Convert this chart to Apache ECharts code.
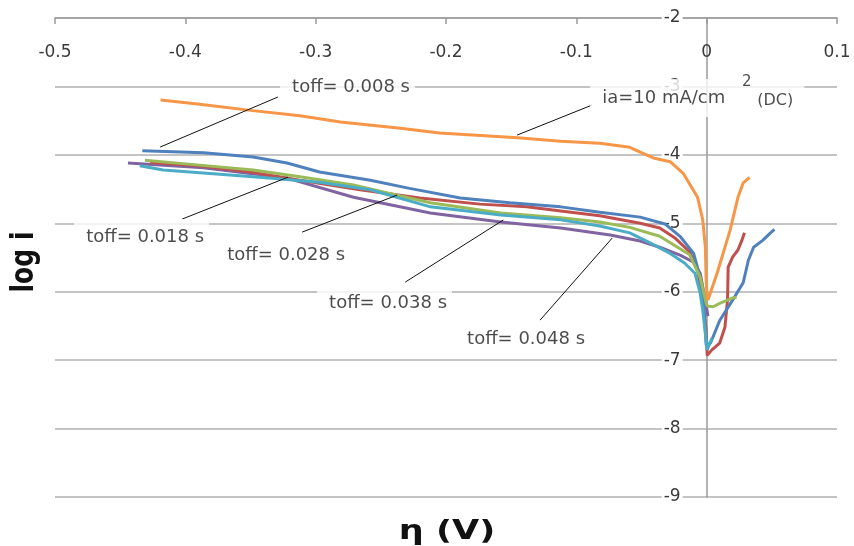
<!DOCTYPE html>
<html>
<head>
<meta charset="utf-8">
<script src="https://cdn.jsdelivr.net/npm/echarts@6/dist/echarts.min.js"></script>
<style>html,body{margin:0;padding:0;background:#fff}#c{width:854px;height:546px}</style>
</head>
<body>
<div id="c"></div>
<script>
// ---- axis settings ----
const xMin = -0.5, xMax = 0.1, xStep = 0.1;
const yMin = -9, yMax = -2, yStep = 1;
const xTitle = 'η (V)';
const yTitle = 'log i';

// ---- series data: [eta (V), log i] ----
const dcData = [[-0.419,-3.20],[-0.389,-3.26],[-0.350,-3.35],[-0.312,-3.43],[-0.281,-3.52],[-0.235,-3.61],[-0.205,-3.68],[-0.145,-3.75],[-0.112,-3.80],[-0.082,-3.83],[-0.059,-3.89],[-0.051,-3.96],[-0.040,-4.05],[-0.028,-4.10],[-0.018,-4.27],[-0.007,-4.62],[-0.003,-4.95],[-0.001,-5.35],[-0.0004,-5.83],[0.0004,-6.08],[0.001,-6.12],[0.008,-5.73],[0.018,-5.10],[0.024,-4.62],[0.028,-4.41],[0.033,-4.33]];
const t008Data = [[-0.433,-3.94],[-0.386,-3.97],[-0.348,-4.03],[-0.322,-4.12],[-0.297,-4.25],[-0.258,-4.37],[-0.228,-4.49],[-0.189,-4.63],[-0.151,-4.70],[-0.112,-4.76],[-0.082,-4.84],[-0.051,-4.91],[-0.032,-5.01],[-0.020,-5.20],[-0.010,-5.44],[-0.005,-5.79],[-0.002,-6.27],[-0.0004,-6.78],[0.003,-6.75],[0.010,-6.42],[0.020,-6.12],[0.028,-5.87],[0.032,-5.54],[0.036,-5.35],[0.043,-5.25],[0.049,-5.14],[0.052,-5.09]];
const t018Data = [[-0.427,-4.11],[-0.389,-4.16],[-0.350,-4.25],[-0.312,-4.37],[-0.266,-4.51],[-0.220,-4.63],[-0.174,-4.72],[-0.138,-4.76],[-0.112,-4.82],[-0.082,-4.89],[-0.051,-5.00],[-0.036,-5.07],[-0.024,-5.22],[-0.013,-5.42],[-0.007,-5.68],[-0.003,-6.12],[-0.0004,-6.56],[0.0004,-6.93],[0.004,-6.85],[0.010,-6.75],[0.014,-6.52],[0.016,-6.12],[0.0165,-5.64],[0.020,-5.49],[0.024,-5.39],[0.027,-5.25],[0.029,-5.14]];
const t028Data = [[-0.431,-4.08],[-0.389,-4.15],[-0.348,-4.22],[-0.312,-4.32],[-0.271,-4.44],[-0.235,-4.60],[-0.212,-4.70],[-0.158,-4.85],[-0.112,-4.92],[-0.082,-4.98],[-0.059,-5.06],[-0.036,-5.19],[-0.013,-5.46],[-0.005,-5.79],[-0.001,-6.12],[0.0004,-6.21],[0.005,-6.22],[0.010,-6.17],[0.020,-6.09],[0.023,-6.08]];
const t038Data = [[-0.444,-4.12],[-0.386,-4.19],[-0.322,-4.34],[-0.271,-4.62],[-0.212,-4.85],[-0.158,-4.98],[-0.112,-5.07],[-0.074,-5.17],[-0.051,-5.26],[-0.036,-5.35],[-0.020,-5.47],[-0.010,-5.57],[-0.005,-5.73],[-0.001,-6.12],[0.001,-6.36]];
const t048Data = [[-0.435,-4.16],[-0.417,-4.22],[-0.348,-4.32],[-0.297,-4.40],[-0.258,-4.51],[-0.212,-4.76],[-0.158,-4.88],[-0.112,-4.95],[-0.082,-5.04],[-0.059,-5.14],[-0.043,-5.29],[-0.028,-5.44],[-0.017,-5.58],[-0.009,-5.73],[-0.005,-6.02],[-0.003,-6.27],[-0.001,-6.61],[0.0004,-6.85],[0.004,-6.68]];

// ---- annotations (data coordinates) ----
const annTexts = ['toff= 0.008 s','toff= 0.018 s','toff= 0.028 s','toff= 0.038 s','toff= 0.048 s','ia=10 mA/cm','2','(DC)'];
const annAnchors = [[-0.3273,-3.01],[-0.4853,-5.20],[-0.3771,-5.465],[-0.2989,-6.167],[-0.193,-6.693],[-0.0894,-3.17],[0.0272,-2.936],[0.0388,-3.213]];
const leaderStarts = [[-0.3290,-3.155],[-0.0879,-3.272],[-0.4025,-4.939],[-0.3104,-5.129],[-0.2313,-5.860],[-0.1278,-6.415]];
const leaderEnds   = [[-0.4193,-3.886],[-0.1454,-3.711],[-0.3211,-4.325],[-0.2375,-4.588],[-0.1561,-4.953],[-0.0725,-5.216]];

const FONT = 'DejaVu Sans';
const colors = {blue:'#4F81BD', red:'#C0504D', green:'#9BBB59', purple:'#8064A2', cyan:'#4BACC6', orange:'#F79646'};
const GRID = {left:55, right:17, top:18, bottom:49};

function lineSeries(name, data, color, z){
  return {name, type:'line', data, showSymbol:false, symbol:'none', smooth:false, z,
    lineStyle:{color, width:3}, itemStyle:{color}};
}

const labelStyles = [
  {padding:[4,5,4,12]},
  {padding:[12,5,6,12]},
  {padding:[4,5,4,12]},
  {padding:[4,5,4,12]},
  {padding:[4,5,4,12]},
  {padding:[10,79,10,12]},
  {padding:0, backgroundColor:'transparent', fontSize:15},
  {padding:0, backgroundColor:'transparent', fontSize:16}
];

const annData = annTexts.map((t,i)=>({
  value: annAnchors[i],
  label: Object.assign({show:true, position:'right', distance:0, formatter:t,
    fontFamily:FONT, fontSize:18, color:'#1e1e1e', backgroundColor:'#fff'}, labelStyles[i])
}));

const chart = echarts.init(document.getElementById('c'), null, {renderer:'canvas'});
chart.setOption({
  animation:false,
  backgroundColor:'#fff',
  grid:GRID,
  xAxis:{type:'value', position:'top', min:xMin, max:xMax, interval:xStep,
    axisLine:{show:true, onZero:false, lineStyle:{color:'#9a9a9a', width:1.5}},
    axisTick:{show:true, inside:true, length:6, lineStyle:{color:'#9a9a9a', width:1.5}},
    axisLabel:{inside:true, margin:26, fontFamily:FONT, fontSize:17, color:'#3a3a3a',
      formatter:v=>String(Math.round(v*10)/10)},
    splitLine:{show:false}},
  yAxis:{type:'value', position:'left', min:yMin, max:yMax, interval:yStep, offset:0,
    axisLine:{show:true, onZero:false, lineStyle:{color:'#9a9a9a', width:1.5}},
    axisTick:{show:false},
    axisLabel:{margin:24, fontFamily:FONT, fontSize:17, color:'#3a3a3a', backgroundColor:'#fff', padding:[1,2]},
    splitLine:{show:true, lineStyle:{color:'#b0b0b0', width:1.5}}},
  series:[
    lineSeries('toff= 0.038 s', t038Data, colors.purple, 2),
    lineSeries('toff= 0.018 s', t018Data, colors.red, 3),
    lineSeries('toff= 0.008 s', t008Data, colors.blue, 4),
    lineSeries('toff= 0.028 s', t028Data, colors.green, 5),
    lineSeries('toff= 0.048 s', t048Data, colors.cyan, 6),
    lineSeries('ia=10 mA/cm2 (DC)', dcData, colors.orange, 7),
    {type:'lines', coordinateSystem:'cartesian2d', z:9, silent:true,
      lineStyle:{color:'#111', width:1, opacity:1},
      data: leaderStarts.map((s,i)=>({coords:[s, leaderEnds[i]]}))},
    {type:'scatter', z:10, symbolSize:0, silent:true, data:annData}
  ],
  graphic:[
    {type:'text', x:25, y:262, rotation:Math.PI/2, scaleY:1.3, z:100,
      style:{text:yTitle, fontFamily:FONT, fontWeight:'bold', fontSize:25, fill:'#111', textAlign:'center', textVerticalAlign:'middle'}},
    {type:'text', x:447, y:532, scaleX:1.3, z:100,
      style:{text:xTitle, fontFamily:FONT, fontWeight:'bold', fontSize:27, fill:'#111', textAlign:'center', textVerticalAlign:'middle'}}
  ]
});
// place the y axis at eta = 0 (where it crosses in the original)
const zeroPx = chart.convertToPixel({xAxisIndex:0}, 0);
chart.setOption({yAxis:{offset: -(zeroPx - GRID.left)}});
</script>
</body>
</html>
